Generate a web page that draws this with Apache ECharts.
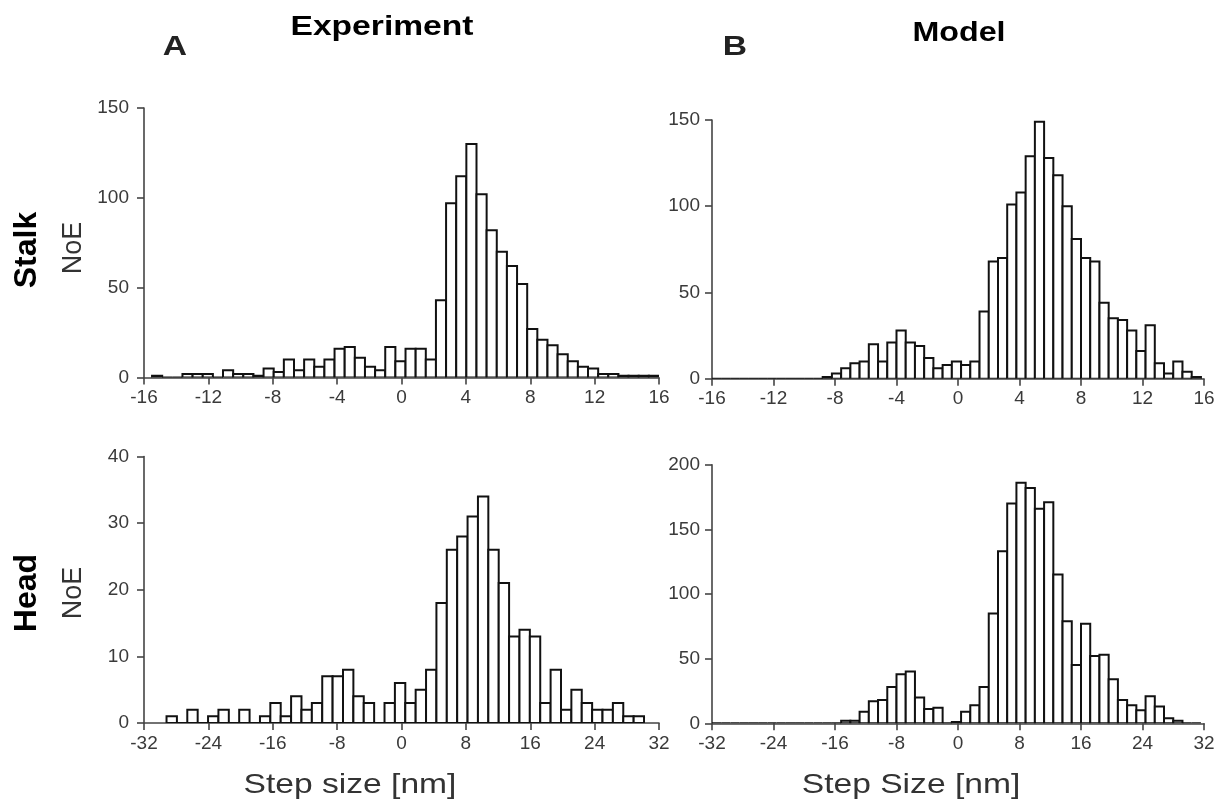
<!DOCTYPE html>
<html>
<head>
<meta charset="utf-8">
<script src="https://cdn.jsdelivr.net/npm/echarts@6/dist/echarts.min.js"></script>
<style>
  html, body { margin: 0; padding: 0; background: #fff; }
  #chart { width: 1220px; height: 807px; }
</style>
</head>
<body>
<div id="chart"></div>
<script>
// Step-size histograms (number of events per bin).
// Each histogram: first bin edge [nm], bin width [nm], counts per bin.

// Experiment, stalk
const stalkExpStart = -15.5;
const stalkExpWidth = 0.63;
const stalkExpCounts = [
  1, 0, 0, 2, 2, 2, 0, 4, 2, 2,
  1, 5, 3, 10, 4, 10, 6, 10, 16, 17,
  11, 6, 4, 17, 9, 16, 16, 10, 43, 97,
  112, 130, 102, 82, 70, 62, 52, 27, 21, 18,
  13, 9, 6, 5, 2, 2, 1, 1, 1, 1
];

// Model, stalk
const stalkModStart = -16;
const stalkModWidth = 0.6;
const stalkModCounts = [
  0, 0, 0, 0, 0, 0, 0, 0, 0, 0,
  0, 0, 1, 3, 6, 9, 10, 20, 10, 21,
  28, 21, 19, 12, 6, 8, 10, 8, 10, 39,
  68, 70, 101, 108, 129, 149, 128, 118, 100, 81,
  70, 68, 44, 35, 34, 28, 16, 31, 9, 3,
  10, 4, 1
];

// Experiment, head
const headExpStart = -29.2;
const headExpWidth = 1.29;
const headExpCounts = [
  1, 0, 2, 0, 1, 2, 0, 2, 0, 1,
  3, 1, 4, 2, 3, 7, 7, 8, 4, 3,
  0, 3, 6, 3, 5, 8, 18, 26, 28, 31,
  34, 26, 21, 13, 14, 13, 3, 8, 2, 5,
  3, 2, 2, 3, 1, 1
];

// Model, head
const headModStart = -32;
const headModWidth = 1.2;
const headModCounts = [
  0, 0, 0, 0, 0, 0, 0, 0, 0, 0,
  0, 0, 0, 0, 2, 2, 9, 17, 18, 28,
  38, 40, 20, 11, 12, 0, 1, 9, 14, 28,
  85, 133, 170, 186, 182, 166, 171, 115, 79, 45,
  77, 52, 53, 34, 18, 14, 10, 21, 13, 4,
  2, 0, 0
];

// Axis ranges and tick spacing
const stalkXRange = [-16, 16], stalkXStep = 4;
const headXRange = [-32, 32], headXStep = 8;
const stalkExpYRange = [0, 150], stalkExpYStep = 50;
const stalkModYRange = [0, 150], stalkModYStep = 50;
const headExpYRange = [0, 40], headExpYStep = 10;
const headModYRange = [0, 200], headModYStep = 50;

// Text
const columnTitles = ['Experiment', 'Model'];
const panelLetters = ['A', 'B'];
const rowTitles = ['Stalk', 'Head'];
const yTitle = 'NoE';
const xTitles = ['Step size [nm]', 'Step Size [nm]'];

const FONT = '"Liberation Sans", Arial, Helvetica, sans-serif';
const AXIS_COLOR = '#444';
const LABEL_COLOR = '#3a3a3a';

// Panel frames (plot areas) in pixels
const grids = [
  { left: 144, top: 108, width: 515, height: 269.5 },  // experiment stalk
  { left: 712, top: 120, width: 492, height: 258.7 },  // model stalk
  { left: 144, top: 456.5, width: 515, height: 266.5 },// experiment head
  { left: 712, top: 464.7, width: 492, height: 258.6 } // model head
];

function xAxisFor(gridIndex, range, step) {
  return {
    type: 'value', gridIndex, min: range[0], max: range[1], interval: step,
    axisLine: { show: true, onZero: false, lineStyle: { color: AXIS_COLOR, width: 1.6 } },
    axisTick: { show: true, inside: false, length: 7, lineStyle: { color: AXIS_COLOR, width: 1.6 } },
    axisLabel: { show: true, fontSize: 19, color: LABEL_COLOR, fontFamily: FONT, margin: 11,
                 showMinLabel: true, showMaxLabel: true },
    splitLine: { show: false }
  };
}

function yAxisFor(gridIndex, range, step, margin) {
  return {
    type: 'value', gridIndex, min: range[0], max: range[1], interval: step,
    axisLine: { show: true, onZero: false, lineStyle: { color: AXIS_COLOR, width: 1.6 } },
    axisTick: { show: true, inside: false, length: 7, lineStyle: { color: AXIS_COLOR, width: 1.6 } },
    axisLabel: { show: true, fontSize: 19, color: LABEL_COLOR, fontFamily: FONT, margin,
                 showMinLabel: true, showMaxLabel: true },
    splitLine: { show: false }
  };
}

// Histogram as outlined rectangles: [left edge, right edge, count]
function histSeries(index, start, width, counts) {
  const data = counts.map((c, i) => [start + i * width, start + (i + 1) * width, c]);
  return {
    type: 'custom',
    xAxisIndex: index, yAxisIndex: index,
    clip: true,
    z: 3,
    data,
    encode: { x: [0, 1], y: 2 },
    renderItem(params, api) {
      const base = api.coord([api.value(0), 0]);
      const top = api.coord([api.value(1), api.value(2)]);
      return {
        type: 'rect',
        shape: { x: base[0], y: top[1], width: top[0] - base[0], height: base[1] - top[1] },
        style: { fill: '#ffffff', stroke: '#111111', lineWidth: 2 }
      };
    }
  };
}

function text(str, x, y, size, weight, color, opts) {
  const o = opts || {};
  return {
    type: 'text', x, y,
    rotation: o.rotation || 0,
    scaleX: o.scaleX || 1,
    style: { text: str, fontSize: size, fontWeight: weight, fontFamily: FONT, fill: color,
             align: 'center', verticalAlign: 'middle' }
  };
}

const chart = echarts.init(document.getElementById('chart'), null, { renderer: 'canvas' });

chart.setOption({
  animation: false,
  backgroundColor: '#ffffff',
  grid: grids.map(g => Object.assign({ containLabel: false }, g)),
  xAxis: [
    xAxisFor(0, stalkXRange, stalkXStep),
    xAxisFor(1, stalkXRange, stalkXStep),
    xAxisFor(2, headXRange, headXStep),
    xAxisFor(3, headXRange, headXStep)
  ],
  yAxis: [
    yAxisFor(0, stalkExpYRange, stalkExpYStep, 15),
    yAxisFor(1, stalkModYRange, stalkModYStep, 12),
    yAxisFor(2, headExpYRange, headExpYStep, 15),
    yAxisFor(3, headModYRange, headModYStep, 12)
  ],
  series: [
    histSeries(0, stalkExpStart, stalkExpWidth, stalkExpCounts),
    histSeries(1, stalkModStart, stalkModWidth, stalkModCounts),
    histSeries(2, headExpStart, headExpWidth, headExpCounts),
    histSeries(3, headModStart, headModWidth, headModCounts)
  ],
  graphic: [
    text(panelLetters[0], 175, 47, 28, 'bold', '#222', { scaleX: 1.2 }),
    text(panelLetters[1], 735, 47, 28, 'bold', '#222', { scaleX: 1.2 }),
    text(columnTitles[0], 382, 27, 28, 'bold', '#000', { scaleX: 1.2 }),
    text(columnTitles[1], 959, 33, 28, 'bold', '#000', { scaleX: 1.15 }),
    text(rowTitles[0], 27, 250, 32, 'bold', '#000', { rotation: Math.PI / 2 }),
    text(rowTitles[1], 27, 593, 32, 'bold', '#000', { rotation: Math.PI / 2 }),
    text(yTitle, 74, 248, 27, 'normal', '#333', { rotation: Math.PI / 2 }),
    text(yTitle, 74, 593, 27, 'normal', '#333', { rotation: Math.PI / 2 }),
    text(xTitles[0], 350, 785, 28, 'normal', '#333', { scaleX: 1.2 }),
    text(xTitles[1], 911, 785, 28, 'normal', '#333', { scaleX: 1.2 })
  ]
});
</script>
</body>
</html>
